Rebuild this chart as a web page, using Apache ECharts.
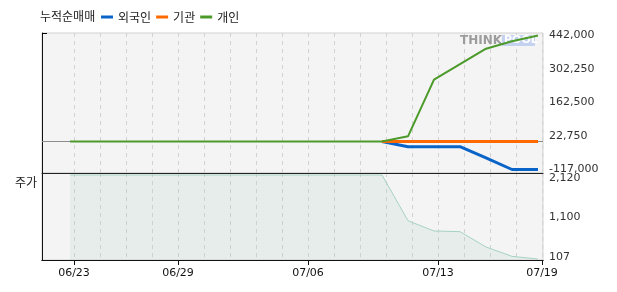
<!DOCTYPE html>
<html><head><meta charset="utf-8">
<script src="https://cdn.jsdelivr.net/npm/echarts@6/dist/echarts.min.js"></script>
<style>html,body{margin:0;padding:0;background:#fff}#c{width:617px;height:292px}</style>
</head><body><div id="c"></div>
<script>
// ---- data ----
const dates = ['06/23','06/24','06/25','06/26','06/29','06/30','07/01','07/02','07/03','07/06','07/07','07/08','07/09','07/10','07/13','07/14','07/15','07/16','07/19'];
const foreign = [null,null,null,null,null,null,null,null,null,null,null,null,0,-21900,-21900,-21900,-69000,-117000,-117000];
const institution = [null,null,null,null,null,null,null,null,null,null,null,null,0,0,0,0,0,0,0];
const individual = [0,0,0,0,0,0,0,0,0,0,0,0,0,21500,257600,322300,387000,417800,442000];
const price = [2120,2120,2120,2120,2120,2120,2120,2120,2120,2120,2120,2120,2120,1025,778,762,395,170,107];
const flowTicks = [442000,302250,162500,22750,-117000];
const priceTicks = [2120,1100,107];
const labelDates = ['06/23','06/29','07/06','07/13','07/19'];

// ---- layout / style ----
const SHIFT = 4/26;
const XMIN = -28/26, XMAX = 473/26;
const gridIdx = dates.map((d,i)=>i+SHIFT);
const labelIdx = labelDates.map(d=>dates.indexOf(d)+SHIFT);
const fmt = v => Math.round(v).toLocaleString('en-US');
const NUMF = 'DejaVu Sans';
const KF = 'Noto Sans CJK KR';
const pts = arr => arr.map((v,i)=>[i, v===null?'-':v]);

const chart = echarts.init(document.getElementById('c'), null, {renderer:'canvas'});
const dashed = {show:true, lineStyle:{color:'#d2d2d2', type:[4,4], width:1}};
chart.setOption({
  animation:false,
  backgroundColor:'#fff',
  title:{text:'누적순매매', left:40, top:10, padding:0, textStyle:{fontFamily:KF, fontSize:12, fontWeight:'normal', color:'#222'}},
  legend:{left:101, top:11, padding:0, itemWidth:12, itemHeight:3, itemGap:5, icon:'rect',
    textStyle:{fontFamily:KF, fontSize:12, color:'#222'},
    data:['외국인','기관','개인']},
  graphic:[
    {type:'text', left:15, top:176, style:{text:'주가', font:'12px "Noto Sans CJK KR"', fill:'#222'}},
    {type:'line', shape:{x1:42, y1:33.5, x2:47, y2:33.5}, style:{stroke:'#000', lineWidth:1}, z:10},
    {type:'text', x:460, y:35, z:1, style:{text:'THINK', font:'bold 12px "DejaVu Sans"', fill:'#9c9c9c'}},
    {type:'rect', shape:{x:502, y:35, width:33, height:11}, style:{fill:'#c5d2ef'}, z:1},
    {type:'text', x:504, y:35, z:1, style:{text:'POOL', font:'bold 11px "DejaVu Sans"', fill:'#fff'}}
  ],
  grid:[
    {left:42, top:33, width:501, height:140, show:true, backgroundColor:'#f4f4f4', borderColor:'#d0d0d0', borderWidth:1},
    {left:42, top:173, width:501, height:87, show:true, backgroundColor:'#f4f4f4', borderColor:'#d0d0d0', borderWidth:1}
  ],
  xAxis:[
    {type:'value', gridIndex:0, min:XMIN, max:XMAX, position:'bottom',
      axisLine:{show:true, onZero:false, lineStyle:{color:'#222', width:1}},
      axisTick:{show:false, customValues:gridIdx}, axisLabel:{show:false}, splitLine:dashed},
    {type:'value', gridIndex:1, min:XMIN, max:XMAX, position:'bottom',
      axisLine:{show:true, onZero:false, lineStyle:{color:'#111', width:1}},
      axisTick:{show:false, customValues:gridIdx}, axisLabel:{show:false}, splitLine:dashed},
    {type:'value', gridIndex:1, min:XMIN, max:XMAX, position:'bottom',
      axisLine:{show:true, onZero:false, lineStyle:{color:'#111', width:1}},
      axisTick:{show:true, length:5, customValues:labelIdx, lineStyle:{color:'#111'}},
      axisLabel:{show:true, customValues:labelIdx, margin:8, fontFamily:NUMF, fontSize:11, color:'#111',
        formatter:v=>dates[Math.round(v-SHIFT)]},
      splitLine:{show:false}}
  ],
  yAxis:[
    {type:'value', gridIndex:0, position:'right', min:-131600, max:452430,
      axisLine:{show:false}, axisTick:{show:false, customValues:flowTicks}, splitLine:{show:false},
      axisLabel:{show:true, customValues:flowTicks, margin:6, fontFamily:NUMF, fontSize:11,
        color:v=> v===442000?'#ff0000':(v===-117000?'#3333ff':'#333'),
        formatter:v=>fmt(v)}},
    {type:'value', gridIndex:0, position:'left', min:-131600, max:452430,
      axisLine:{show:true, onZero:false, lineStyle:{color:'#111'}}, axisTick:{show:false}, axisLabel:{show:false}, splitLine:{show:false}},
    {type:'value', gridIndex:1, position:'right', min:83, max:2168,
      axisLine:{show:false}, axisTick:{show:false, customValues:priceTicks}, splitLine:{show:false},
      axisLabel:{show:true, customValues:priceTicks, margin:6, fontFamily:NUMF, fontSize:11, color:'#333',
        formatter:v=> v===2120?'{d|'+fmt(v)+'}':(v===107?'{u|'+fmt(v)+'}':fmt(v)),
        rich:{d:{padding:[6,0,0,0], fontFamily:NUMF, fontSize:11, color:'#333'}, u:{padding:[0,0,4,0], fontFamily:NUMF, fontSize:11, color:'#333'}}}},
    {type:'value', gridIndex:1, position:'left', min:83, max:2168,
      axisLine:{show:true, onZero:false, lineStyle:{color:'#111'}}, axisTick:{show:false}, axisLabel:{show:false}, splitLine:{show:false}}
  ],
  series:[
    {name:'외국인', type:'line', xAxisIndex:0, yAxisIndex:0, data:pts(foreign), showSymbol:false, symbol:'none',
      color:'#0a64c8', lineStyle:{width:3, color:'#0a64c8'},
      markLine:{silent:true, symbol:'none', label:{show:false}, lineStyle:{color:'#8c8c8c', type:'solid', width:1}, data:[{yAxis:0}], z:1}},
    {name:'기관', type:'line', xAxisIndex:0, yAxisIndex:0, data:pts(institution), showSymbol:false, symbol:'none',
      color:'#ff6a00', lineStyle:{width:3, color:'#ff6a00'}},
    {name:'개인', type:'line', xAxisIndex:0, yAxisIndex:0, data:pts(individual), showSymbol:false, symbol:'none',
      color:'#4c9a2a', lineStyle:{width:2, color:'#4c9a2a'}},
    {name:'주가', type:'line', xAxisIndex:1, yAxisIndex:2, data:pts(price), showSymbol:false, symbol:'none',
      lineStyle:{width:1, color:'#a6d2c3'}, areaStyle:{color:'rgba(160,200,180,0.22)', origin:'start'}}
  ]
});
</script></body></html>
